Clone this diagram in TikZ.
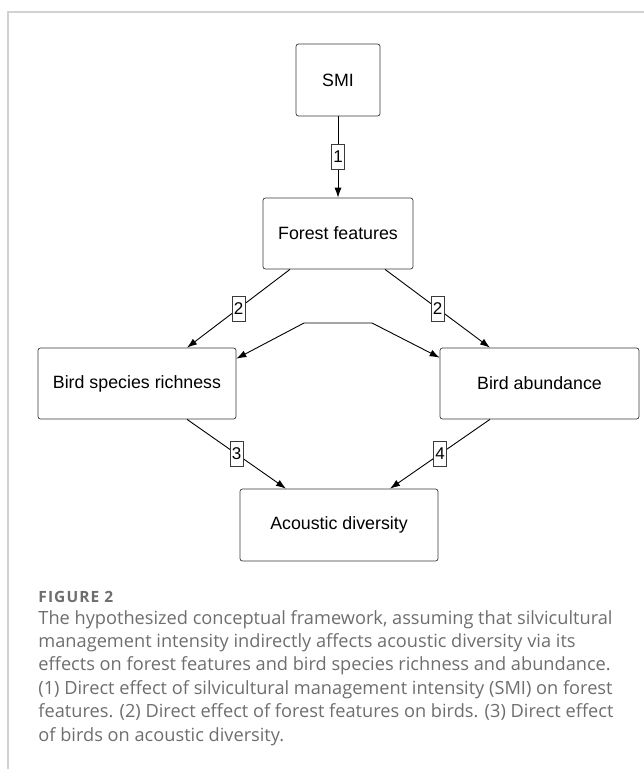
\documentclass[tikz,border=0pt]{standalone}
\usepackage{fontspec}
\setmainfont{Liberation Sans}
\newfontfamily\captionfont{Open Sans}
\usepackage{color}
\usetikzlibrary{arrows.meta}
\definecolor{framegray}{HTML}{D2D2D2}
\definecolor{capgray}{HTML}{6E6E6E}
\definecolor{boxgray}{HTML}{3A3A3A}

\begin{document}
\begin{tikzpicture}[x=1pt,y=-1pt,->,>={Latex[length=10pt,width=7pt]},
  line width=0.9pt,main node/.style={rectangle,rounded corners=2.5pt,
  draw=boxgray,line width=0.7pt,fill=white,minimum height=71pt,
  font=\fontsize{17.8}{20}\selectfont},
  num node/.style={rectangle,draw=boxgray,fill=white,line width=0.6pt,
  inner sep=1.5pt,minimum width=13pt,minimum height=25pt,
  font=\fontsize{17}{18}\selectfont}]

  \useasboundingbox (0,0) rectangle (644,769);
  \draw[-,framegray,line width=1.2pt] (8,769) -- (8,12) -- (644,12);

  \node[main node, minimum width=84pt, minimum height=72pt] (S) at (338,80) {SMI};
  \node[main node, minimum width=150pt] (F) at (338,233.5) {Forest features};
  \node[main node, minimum width=198pt] (R) at (137,383.5) {Bird species richness};
  \node[main node, minimum width=199pt] (B) at (539.5,383.5) {Bird abundance};
  \node[main node, minimum width=198pt, minimum height=72pt] (A) at (339,525) {Acoustic diversity};

  \path[every node/.style={num node}]
    (S) edge node {1} (F)
    ([xshift=-48pt]F.south) edge node {2} ([xshift=50pt]R.north)
    ([xshift=47pt]F.south) edge node {2} ([xshift=-49.5pt]B.north)
    ([xshift=50pt]R.south) edge node {3} ([xshift=-53pt]A.north)
    ([xshift=-49.5pt]B.south) edge node {4} ([xshift=51pt]A.north);

  % two-headed link between the bird nodes
  \coordinate (kl) at (304,323);
  \coordinate (kr) at (372,323);
  \draw[<->] ([yshift=-11pt]R.north east) -- (kl) -- (kr) -- ([yshift=-10pt]B.north west);

  % caption, placed by the baseline of its last line
  \node[anchor=base west, inner sep=0pt, text=capgray,
    font=\captionfont\bfseries\fontsize{15.5}{17}\selectfont\addfontfeature{LetterSpace=7}]
    (fig) at (38,602) {FIGURE 2};
  \node[anchor=base west, inner sep=0pt, align=left, text=capgray,
    font=\captionfont\fontsize{18.2}{23.4}\selectfont] (cap) at (38,741)
    {The hypothesized conceptual framework, assuming that silvicultural\\
     management intensity indirectly affects acoustic diversity via its\\
     effects on forest features and bird species richness and abundance.\\
     (1) Direct effect of silvicultural management intensity (SMI) on forest\\
     features. (2) Direct effect of forest features on birds. (3) Direct effect\\
     of birds on acoustic diversity.};
\end{tikzpicture}
\end{document}
